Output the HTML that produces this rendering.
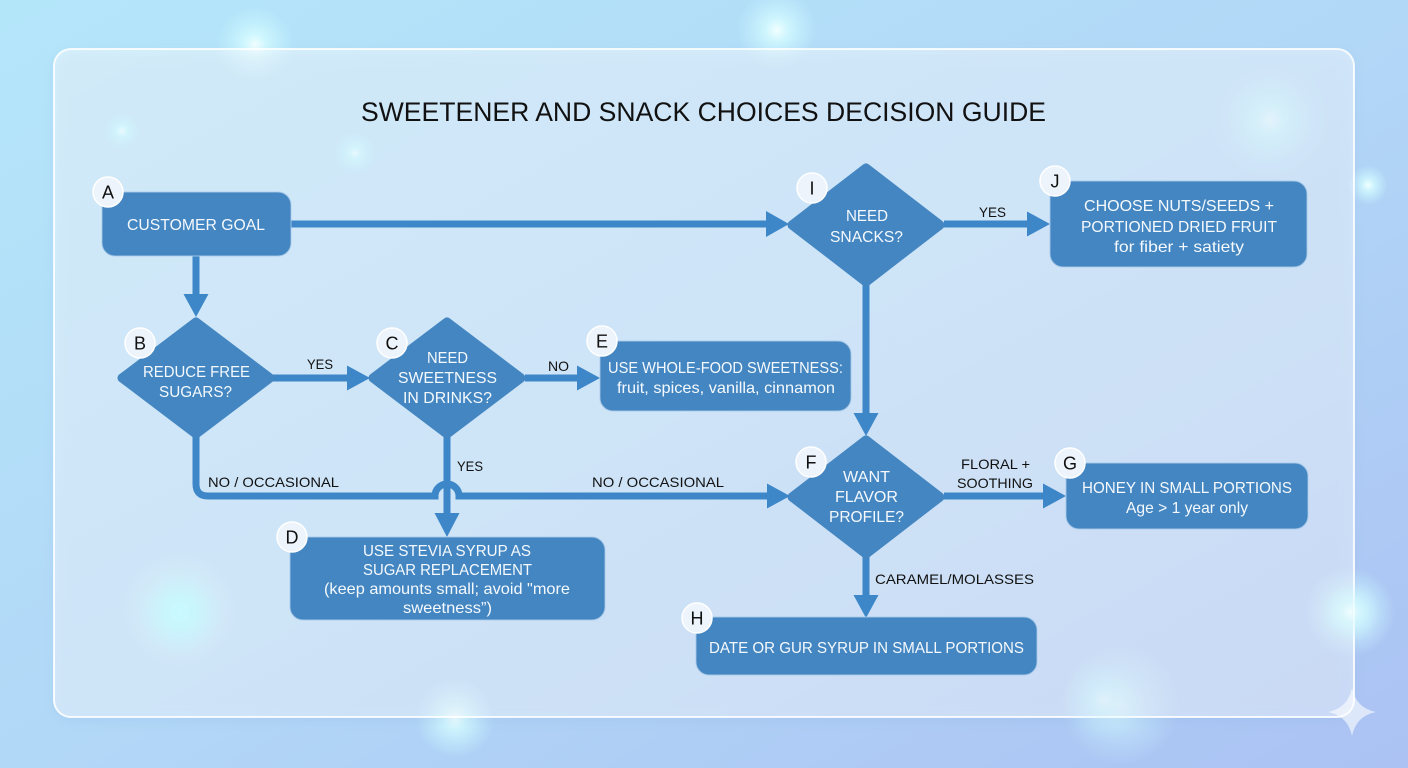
<!DOCTYPE html>
<html>
<head>
<meta charset="utf-8">
<style>
html,body{margin:0;padding:0;width:1408px;height:768px;overflow:hidden;background:#b3dff8;}
svg{display:block;}
text{font-family:"Liberation Sans",Arial,sans-serif;}
.nt{fill:#f5f9fd;font-size:16px;}
.lb{fill:#111;font-size:14px;}
.bd{fill:#111;font-size:18px;text-anchor:middle;}
</style>
</head>
<body>
<svg width="1408" height="768" viewBox="0 0 1408 768" xmlns="http://www.w3.org/2000/svg">
<defs>
  <linearGradient id="bg" x1="0" y1="0" x2="1" y2="1">
    <stop offset="0" stop-color="#b4e6fa"/>
    <stop offset="0.5" stop-color="#b2d8f7"/>
    <stop offset="1" stop-color="#abc2f3"/>
  </linearGradient>
  <linearGradient id="panel" x1="0" y1="0" x2="1" y2="1">
    <stop offset="0" stop-color="#ffffff" stop-opacity="0.45"/>
    <stop offset="1" stop-color="#ffffff" stop-opacity="0.42"/>
  </linearGradient>
  <radialGradient id="glow">
    <stop offset="0" stop-color="#f2ffff" stop-opacity="1"/>
    <stop offset="0.3" stop-color="#d4fbff" stop-opacity="0.8"/>
    <stop offset="1" stop-color="#c8f6ff" stop-opacity="0"/>
  </radialGradient>
  <radialGradient id="glowc">
    <stop offset="0" stop-color="#c6fcff" stop-opacity="1"/>
    <stop offset="0.35" stop-color="#c2f8ff" stop-opacity="0.8"/>
    <stop offset="1" stop-color="#bff2ff" stop-opacity="0"/>
  </radialGradient>
  <filter id="sh" x="-10%" y="-10%" width="120%" height="120%">
    <feGaussianBlur stdDeviation="6"/>
  </filter>
</defs>

<!-- background -->
<rect x="0" y="0" width="1408" height="768" fill="url(#bg)"/>

<!-- glows behind -->
<circle cx="255" cy="45" r="40" fill="url(#glow)"/>
<circle cx="777" cy="30" r="40" fill="url(#glow)"/>
<circle cx="1368" cy="185" r="20" fill="url(#glow)"/>
<circle cx="1270" cy="120" r="60" fill="url(#glow)" opacity="0.5"/>
<circle cx="180" cy="612" r="60" fill="url(#glowc)"/>
<circle cx="455" cy="718" r="40" fill="url(#glow)"/>
<circle cx="1350" cy="612" r="45" fill="url(#glow)"/>
<circle cx="1120" cy="705" r="60" fill="url(#glow)" opacity="0.6"/>

<!-- panel -->
<rect x="54" y="52" width="1300" height="669" rx="18" fill="#7fa8d8" opacity="0.18" filter="url(#sh)"/>
<rect x="54" y="49" width="1300" height="668" rx="17" fill="url(#panel)" stroke="#ffffff" stroke-opacity="0.85" stroke-width="2"/>

<!-- glows in front (soft) -->
<circle cx="122" cy="131" r="18" fill="url(#glow)" opacity="0.8"/>
<circle cx="355" cy="153" r="22" fill="url(#glow)" opacity="0.7"/>
<circle cx="1270" cy="120" r="45" fill="url(#glow)" opacity="0.35"/>
<circle cx="180" cy="612" r="40" fill="url(#glowc)" opacity="0.8"/>
<circle cx="1350" cy="612" r="30" fill="url(#glow)" opacity="0.6"/>
<circle cx="1103" cy="700" r="40" fill="url(#glow)" opacity="0.4"/>

<!-- star -->
<path d="M1352,688 Q1356,708 1376,712 Q1356,716 1352,736 Q1348,716 1328,712 Q1348,708 1352,688 Z" fill="#ffffff" opacity="0.6"/>

<!-- title -->
<text x="361" y="121" font-size="27" fill="#111" textLength="685" lengthAdjust="spacingAndGlyphs">SWEETENER AND SNACK CHOICES DECISION GUIDE</text>

<!-- connectors -->
<g fill="#3d87c8" stroke="none">
  <!-- A -> I -->
  <rect x="291" y="220.5" width="478" height="7"/>
  <polygon points="766,211 789,224 766,237"/>
  <!-- A -> B -->
  <rect x="192.5" y="256" width="7" height="40"/>
  <polygon points="183.5,294 208.5,294 196,317"/>
  <!-- B -> C -->
  <rect x="273" y="374.5" width="76" height="7"/>
  <polygon points="347,365.5 347,390.5 370,378"/>
  <!-- C -> E -->
  <rect x="525" y="374.5" width="54" height="7"/>
  <polygon points="577,365.5 577,390.5 600,378"/>
  <!-- I -> J -->
  <rect x="944" y="220.5" width="86" height="7"/>
  <polygon points="1027,211.5 1027,236.5 1050,224"/>
  <!-- I -> F -->
  <rect x="862.5" y="285" width="7" height="130"/>
  <polygon points="853.5,413 878.5,413 866,436"/>
  <!-- C -> D -->
  <rect x="443.5" y="436" width="7" height="80"/>
  <polygon points="434.5,513 459.5,513 447,537"/>
  <!-- F -> G -->
  <rect x="944" y="492.5" width="102" height="7"/>
  <polygon points="1043,483.5 1043,508.5 1066,496"/>
  <!-- F -> H -->
  <rect x="862.5" y="556" width="7" height="41"/>
  <polygon points="853.5,595 878.5,595 866,618"/>
  <!-- B -> F arrowhead -->
  <polygon points="767,483.5 767,508.5 790,496"/>
</g>
<path d="M196,436 V484 Q196,496 208,496 H435 A12,12 0 0 1 459,496 H770" fill="none" stroke="#3d87c8" stroke-width="7"/>

<!-- nodes -->
<g fill="#4386c1" stroke="#a9cbe9" stroke-opacity="0.7" stroke-width="1.2">
  <rect x="102" y="192" width="189" height="64" rx="13"/>
  <rect x="600" y="341" width="251" height="70" rx="13"/>
  <rect x="290" y="537" width="315" height="83" rx="13"/>
  <rect x="1050" y="181" width="257" height="86" rx="13"/>
  <rect x="1066" y="463" width="242" height="66" rx="13"/>
  <rect x="696" y="617" width="341" height="58" rx="13"/>
</g>
<g fill="#4386c1" stroke="#4386c1" stroke-width="9" stroke-linejoin="round">
  <polygon points="196,322 270,378 196,434 122,378"/>
  <polygon points="447,322 521,378 447,434 373,378"/>
  <polygon points="866,168 940,225 866,282 792,225"/>
  <polygon points="866,440 940,497 866,554 792,497"/>
</g>

<!-- node text -->
<text class="nt" x="127" y="230" textLength="138" lengthAdjust="spacingAndGlyphs">CUSTOMER GOAL</text>

<text class="nt" x="143" y="377" textLength="107" lengthAdjust="spacingAndGlyphs">REDUCE FREE</text>
<text class="nt" x="159" y="397" textLength="73" lengthAdjust="spacingAndGlyphs">SUGARS?</text>

<text class="nt" x="427" y="363" textLength="41" lengthAdjust="spacingAndGlyphs">NEED</text>
<text class="nt" x="398" y="383" textLength="99" lengthAdjust="spacingAndGlyphs">SWEETNESS</text>
<text class="nt" x="403" y="403" textLength="89" lengthAdjust="spacingAndGlyphs">IN DRINKS?</text>

<text class="nt" x="608" y="373" textLength="235" lengthAdjust="spacingAndGlyphs">USE WHOLE-FOOD SWEETNESS:</text>
<text class="nt" x="617" y="393" textLength="218" lengthAdjust="spacingAndGlyphs">fruit, spices, vanilla, cinnamon</text>

<text class="nt" x="363" y="556" textLength="168" lengthAdjust="spacingAndGlyphs">USE STEVIA SYRUP AS</text>
<text class="nt" x="363" y="575" textLength="169" lengthAdjust="spacingAndGlyphs">SUGAR REPLACEMENT</text>
<text class="nt" x="324" y="594" textLength="246" lengthAdjust="spacingAndGlyphs">(keep amounts small; avoid "more</text>
<text class="nt" x="403" y="613" textLength="89" lengthAdjust="spacingAndGlyphs">sweetness”)</text>

<text class="nt" x="846" y="221" textLength="42" lengthAdjust="spacingAndGlyphs">NEED</text>
<text class="nt" x="830" y="242" textLength="73" lengthAdjust="spacingAndGlyphs">SNACKS?</text>

<text class="nt" x="1084" y="211" textLength="190" lengthAdjust="spacingAndGlyphs">CHOOSE NUTS/SEEDS +</text>
<text class="nt" x="1081" y="232" textLength="196" lengthAdjust="spacingAndGlyphs">PORTIONED DRIED FRUIT</text>
<text class="nt" x="1114" y="252" textLength="130" lengthAdjust="spacingAndGlyphs">for fiber + satiety</text>

<text class="nt" x="843" y="482" textLength="47" lengthAdjust="spacingAndGlyphs">WANT</text>
<text class="nt" x="835" y="502" textLength="63" lengthAdjust="spacingAndGlyphs">FLAVOR</text>
<text class="nt" x="829" y="522" textLength="75" lengthAdjust="spacingAndGlyphs">PROFILE?</text>

<text class="nt" x="1082" y="493" textLength="210" lengthAdjust="spacingAndGlyphs">HONEY IN SMALL PORTIONS</text>
<text class="nt" x="1126" y="513" textLength="122" lengthAdjust="spacingAndGlyphs">Age &gt; 1 year only</text>

<text class="nt" x="709" y="653" textLength="315" lengthAdjust="spacingAndGlyphs">DATE OR GUR SYRUP IN SMALL PORTIONS</text>

<!-- connector labels -->
<text class="lb" x="307" y="369" textLength="26" lengthAdjust="spacingAndGlyphs">YES</text>
<text class="lb" x="548" y="371" textLength="21" lengthAdjust="spacingAndGlyphs">NO</text>
<text class="lb" x="979" y="217" textLength="27" lengthAdjust="spacingAndGlyphs">YES</text>
<text class="lb" x="208" y="487" textLength="131" lengthAdjust="spacingAndGlyphs">NO / OCCASIONAL</text>
<text class="lb" x="457" y="471" textLength="26" lengthAdjust="spacingAndGlyphs">YES</text>
<text class="lb" x="592" y="487" textLength="132" lengthAdjust="spacingAndGlyphs">NO / OCCASIONAL</text>
<text class="lb" x="961" y="469" textLength="69" lengthAdjust="spacingAndGlyphs">FLORAL +</text>
<text class="lb" x="957" y="488" textLength="76" lengthAdjust="spacingAndGlyphs">SOOTHING</text>
<text class="lb" x="875" y="584" textLength="159" lengthAdjust="spacingAndGlyphs">CARAMEL/MOLASSES</text>

<!-- badges -->
<g fill="#edf4fb" stroke="#ffffff" stroke-width="1.5">
  <circle cx="108" cy="192" r="15"/>
  <circle cx="140" cy="343" r="15"/>
  <circle cx="392" cy="343" r="15"/>
  <circle cx="292" cy="537" r="15"/>
  <circle cx="602" cy="341" r="15"/>
  <circle cx="811" cy="462" r="15"/>
  <circle cx="1070" cy="463" r="15"/>
  <circle cx="697" cy="618" r="15"/>
  <circle cx="812" cy="188" r="15"/>
  <circle cx="1055" cy="181" r="15"/>
</g>
<text class="bd" x="108" y="198.5">A</text>
<text class="bd" x="140" y="349.5">B</text>
<text class="bd" x="392" y="349.5">C</text>
<text class="bd" x="292" y="543.5">D</text>
<text class="bd" x="602" y="347.5">E</text>
<text class="bd" x="811" y="468.5">F</text>
<text class="bd" x="1070" y="469.5">G</text>
<text class="bd" x="697" y="624.5">H</text>
<text class="bd" x="812" y="194.5">I</text>
<text class="bd" x="1055" y="187.5">J</text>
</svg>
</body>
</html>
